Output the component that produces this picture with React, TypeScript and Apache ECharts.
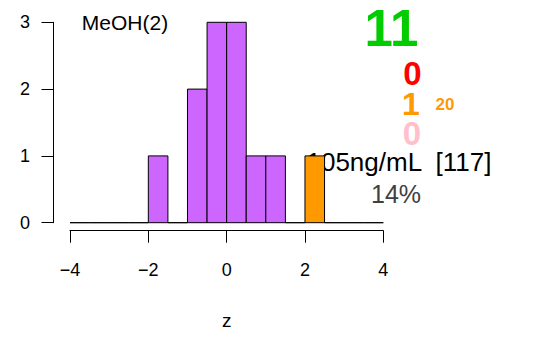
import React, { useEffect, useRef } from "react";
import * as echarts from "echarts";

// Histogram breaks (bin edges) and counts per bin
const breaks = [-4, -3.5, -3, -2.5, -2, -1.5, -1, -0.5, 0, 0.5, 1, 1.5, 2, 2.5, 3, 3.5, 4];
const counts = [0, 0, 0, 0, 1, 0, 2, 3, 3, 1, 1, 0, 1, 0, 0, 0];
// bin index drawn in the highlight colour
const highlightBins = [12];

const xTicks = [-4, -2, 0, 2, 4];
const yTicks = [0, 1, 2, 3];

const title = "MeOH(2)";
const nGood = "11";
const nRed = "0";
const nOrange = "1";
const orangeNote = "20";
const nPink = "0";
const concText = "105ng/mL  [117]";
const pctText = "14%";
const xName = "z";

const FONT = '"Liberation Sans", Arial, Helvetica, sans-serif';

export default function App() {
  const ref = useRef<HTMLDivElement>(null);
  useEffect(() => {
    if (!ref.current) return;
    const chart = echarts.init(ref.current, undefined, { renderer: "svg" });
    const data = counts.map((c, i) => [breaks[i], breaks[i + 1], c, highlightBins.includes(i) ? 1 : 0]);
    chart.setOption({
      animation: false,
      backgroundColor: "#ffffff",
      textStyle: { fontFamily: FONT },
      grid: { left: 70, right: 155.7, top: 22.3, bottom: 114.3, containLabel: false },
      xAxis: {
        type: "value",
        min: xTicks[0],
        max: xTicks[xTicks.length - 1],
        interval: 2,
        offset: 8,
        name: xName,
        nameLocation: "middle",
        nameGap: 90,
        nameTextStyle: { color: "#000", fontSize: 19, fontFamily: FONT, verticalAlign: "middle" },
        axisLine: { show: true, onZero: false, lineStyle: { color: "#000", width: 1 } },
        axisTick: { show: true, length: 12, lineStyle: { color: "#000", width: 1 } },
        axisLabel: {
          color: "#000",
          fontSize: 18,
          fontFamily: FONT,
          margin: 39,
          verticalAlign: "middle",
          formatter: (v: number) => String(v).replace("-", "\u2212"),
        },
        splitLine: { show: false },
      },
      yAxis: {
        type: "value",
        min: yTicks[0],
        max: yTicks[yTicks.length - 1],
        interval: 1,
        offset: 17,
        axisLine: { show: true, onZero: false, lineStyle: { color: "#000", width: 1 } },
        axisTick: { show: true, length: 11.5, lineStyle: { color: "#000", width: 1 } },
        axisLabel: {
          color: "#000",
          fontSize: 18,
          fontFamily: FONT,
          margin: 23,
          align: "right",
          verticalAlign: "middle",
        },
        splitLine: { show: false },
      },
      series: [
        {
          type: "custom",
          data,
          encode: { x: [0, 1], y: 2 },
          renderItem: (params: any, api: any) => {
            const x0 = api.value(0);
            const x1 = api.value(1);
            const c = api.value(2);
            const hl = api.value(3);
            const p0 = api.coord([x0, 0]);
            const p1 = api.coord([x1, c]);
            return {
              type: "rect",
              shape: { x: p0[0], y: p1[1], width: p1[0] - p0[0], height: p0[1] - p1[1] },
              style: { fill: hl ? "#FF9900" : "#CC66FF", stroke: "#000", lineWidth: 1 },
            };
          },
        },
      ],
      graphic: [
        { type: "text", x: 125, y: 22.5, style: { text: title, fill: "#000", font: `21px ${FONT}`, align: "center", verticalAlign: "middle" } },
        { type: "text", x: 391.5, y: 28.5, style: { text: nGood, fill: "#00CC00", font: `bold 51px ${FONT}`, lineHeight: 40, align: "center", verticalAlign: "middle" } },
        { type: "text", x: 412.5, y: 73.5, style: { text: nRed, fill: "#FF0000", font: `bold 33px ${FONT}`, lineHeight: 26, align: "center", verticalAlign: "middle" } },
        { type: "text", x: 411, y: 104, style: { text: nOrange, fill: "#FF9900", font: `bold 32px ${FONT}`, lineHeight: 26, align: "center", verticalAlign: "middle" } },
        { type: "text", x: 445, y: 104.5, style: { text: orangeNote, fill: "#FF9900", font: `bold 17px ${FONT}`, lineHeight: 14, align: "center", verticalAlign: "middle" } },
        { type: "text", x: 412, y: 133, style: { text: nPink, fill: "#FFC0CB", font: `bold 33px ${FONT}`, lineHeight: 26, align: "center", verticalAlign: "middle" } },
        { type: "text", x: 399, y: 161.5, style: { text: concText, fill: "#000", font: `26px ${FONT}`, lineHeight: 22, align: "center", verticalAlign: "middle" } },
        { type: "text", x: 396, y: 193.5, style: { text: pctText, fill: "#404040", font: `25px ${FONT}`, lineHeight: 22, align: "center", verticalAlign: "middle" } },
      ],
    });
    return () => chart.dispose();
  }, []);
  return <div ref={ref} style={{ position: "fixed", left: 0, top: 0, width: 539, height: 337 }} />;
}
